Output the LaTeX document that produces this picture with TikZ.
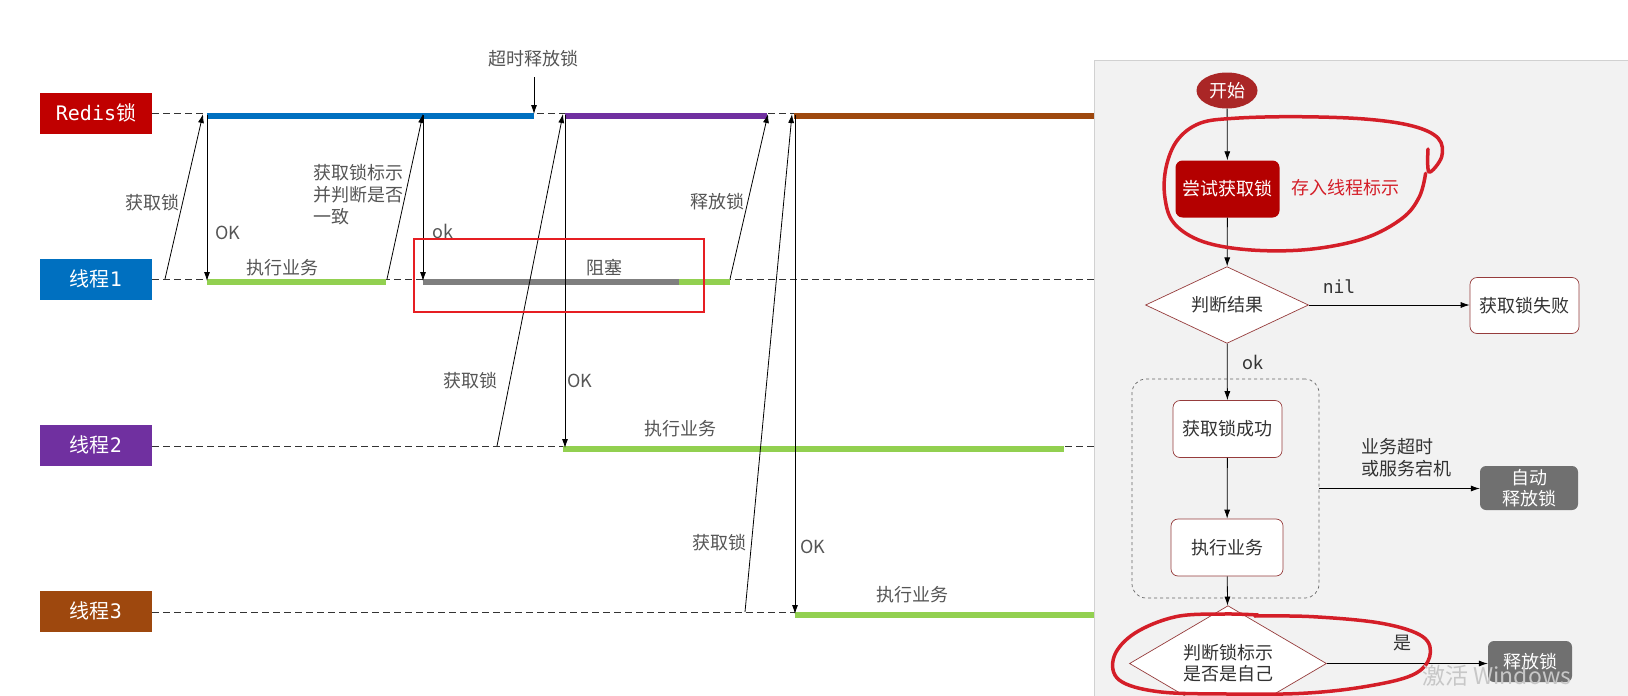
\documentclass[tikz,border=0pt]{standalone}
\usepackage{fontspec}
\setmainfont{Noto Sans CJK SC}
\newfontfamily\mymono{DejaVu Sans Mono}
\usetikzlibrary{arrows.meta,shapes.geometric}
\definecolor{redisred}{RGB}{192,0,0}
\definecolor{tblue}{RGB}{0,112,192}
\definecolor{tpurple}{RGB}{112,48,160}
\definecolor{tbrown}{RGB}{158,72,14}
\definecolor{bargreen}{RGB}{146,208,80}
\definecolor{bargray}{RGB}{127,127,127}
\definecolor{lblgray}{RGB}{85,85,85}
\definecolor{flowtext}{RGB}{51,51,51}
\definecolor{panelbg}{RGB}{242,242,242}
\definecolor{flowred}{RGB}{170,38,38}
\definecolor{tryred}{RGB}{180,0,0}
\definecolor{inkred}{RGB}{212,30,40}
\definecolor{boxgray}{RGB}{112,112,112}
\definecolor{edgered}{RGB}{150,60,60}
\definecolor{rectred}{RGB}{230,30,35}
\begin{document}
\begin{tikzpicture}[x=1pt,y=-1pt,
  lane/.style={fill=#1, text=white, minimum width=112pt, minimum height=41pt, inner sep=0pt, font=\fontsize{20}{24}\selectfont},
  tline/.style={draw=black!80, line width=0.9pt, dash pattern=on 7pt off 4pt},
  bar/.style={line width=6pt, draw=#1},
  arr/.style={draw=black, line width=0.8pt, -{Latex[length=9pt,width=6pt]}},
  lbl/.style={text=lblgray, font=\fontsize{18}{22}\selectfont, inner sep=0pt},
  flbl/.style={text=flowtext, font=\fontsize{18}{22}\selectfont, inner sep=0pt},
  fbox/.style={draw=edgered, line width=0.7pt, fill=white, rounded corners=7pt, text=flowtext, font=\fontsize{18}{22}\selectfont, inner sep=0pt},
  gbox/.style={fill=boxgray, rounded corners=6pt, text=white, font=\fontsize{18}{21}\selectfont, inner sep=0pt, align=center},
  dia/.style={diamond, draw=edgered, line width=0.7pt, fill=white, text=flowtext, font=\fontsize{18}{21}\selectfont, inner sep=-3pt, align=center},
  loop/.style={draw=inkred, line width=3.5pt, line cap=round, line join=round}
]
\useasboundingbox (0,0) rectangle (1628,696);

% ---------- lanes ----------
\node[lane=redisred] (redis) at (96,113) {{\mymono Redis}锁};
\node[lane=tblue] (t1) at (96,279) {线程{\mymono 1}};
\node[lane=tpurple] (t2) at (96,445) {线程{\mymono 2}};
\node[lane=tbrown] (t3) at (96,611) {线程{\mymono 3}};

\coordinate (rend) at (1100,113);
\coordinate (t1end) at (1100,279);
\coordinate (t2end) at (1100,446);
\coordinate (t3end) at (1100,612);
\draw[tline] (redis.east) -- (rend);
\draw[tline] (t1.east) -- (t1end);
\draw[tline] (t2.east |- t2end) -- (t2end);
\draw[tline] (t3.east |- t3end) -- (t3end);

% ---------- bars ----------
\draw[bar=tblue] (207,116.3) -- (534,116.3);
\draw[bar=tpurple] (565,116.3) -- (767,116.3);
\draw[bar=tbrown] (794,116.3) -- (1100,116.3);
\draw[bar=bargreen] (207,282.3) -- (386,282.3);
\draw[bar=bargray] (423,282.3) -- (679,282.3);
\draw[bar=bargreen] (679,282.3) -- (730,282.3);
\draw[bar=bargreen] (563,449) -- (1064,449);
\draw[bar=bargreen] (795,615) -- (1100,615);

% ---------- arrow end points ----------
\coordinate (a1s) at (165,279);  \coordinate (a1e) at (203,114);
\coordinate (k1s) at (207,115);  \coordinate (k1e) at (207,281);
\coordinate (a2s) at (387,279);  \coordinate (a2e) at (423,114);
\coordinate (k2s) at (423,115);  \coordinate (k2e) at (423,281);
\coordinate (a3s) at (730,279);  \coordinate (a3e) at (768,114);
\coordinate (a4s) at (497,446);  \coordinate (a4e) at (563,114);
\coordinate (k4s) at (565,115);  \coordinate (k4e) at (565,448);
\coordinate (a5s) at (745,612);  \coordinate (a5e) at (792,114);
\coordinate (k5s) at (795,115);  \coordinate (k5e) at (795,614);
\coordinate (tos) at (534,77);   \coordinate (toe) at (534,114);

\draw[arr] (a1s) -- (a1e);
\draw[arr] (k1s) -- (k1e);
\draw[arr] (a2s) -- (a2e);
\draw[arr] (k2s) -- (k2e);
\draw[arr] (a3s) -- (a3e);
\draw[arr] (a4s) -- (a4e);
\draw[arr] (k4s) -- (k4e);
\draw[arr] (a5s) -- (a5e);
\draw[arr] (k5s) -- (k5e);
\draw[arr] (tos) -- (toe);

% ---------- labels (left) ----------
\node[lbl] (lto) at (533,59) {超时释放锁};
\node[lbl] (l1) at (152,203) {获取锁};
\node[lbl, anchor=west] (lok1) at (215,233) {OK};
\node[lbl] (lx1) at (282,268) {执行业务};
\node[lbl, anchor=west, align=left] (lid) at (313,195) {获取锁标示\\并判断是否\\一致};
\node[lbl, anchor=west] (lok2) at (432,231) {ok};
\node[lbl] (lblk) at (604,268) {阻塞};
\node[lbl] (lrel) at (717,202) {释放锁};
\node[lbl] (l4) at (470,381) {获取锁};
\node[lbl, anchor=west] (lok4) at (567,381) {OK};
\node[lbl] (lx4) at (680,429) {执行业务};
\node[lbl] (l5) at (719,543) {获取锁};
\node[lbl, anchor=west] (lok5) at (800,547) {OK};
\node[lbl] (lx5) at (912,595) {执行业务};

\draw[rectred, line width=2pt] (414,239) rectangle (704,312);

% ---------- right panel ----------
\fill[panelbg] (1094,60) rectangle (1640,700);
\draw[black!18, line width=0.8pt] (1094,700) -- (1094,60) -- (1640,60);

\node[ellipse, fill=flowred, text=white, minimum width=61pt, minimum height=36pt, inner sep=0pt, font=\fontsize{18}{22}\selectfont] (start) at (1227,90.5) {开始};
\node[fill=tryred, rounded corners=7pt, text=white, minimum width=104pt, minimum height=57pt, inner sep=0pt, font=\fontsize{18}{22}\selectfont] (try) at (1227.5,189) {尝试获取锁};
\node[text=inkred, font=\fontsize{18}{22}\selectfont, inner sep=0pt] (store) at (1345,188) {存入线程标示};
\node[dia, minimum width=163pt, minimum height=69pt] (judge) at (1227,305) {判断结果};
\node[fbox, minimum width=109pt, minimum height=56pt] (fail) at (1524.5,305.5) {获取锁失败};
\node[draw=black!60, dashed, rounded corners=14pt, minimum width=187pt, minimum height=219pt, line width=0.7pt] (grp) at (1225.5,488.5) {};
\node[fbox, minimum width=109pt, minimum height=57pt] (succ) at (1227.5,429) {获取锁成功};
\node[fbox, minimum width=112pt, minimum height=57pt] (exec) at (1227,547.5) {执行业务};
\node[gbox, minimum width=98pt, minimum height=44pt] (auto) at (1529,488) {自动\\释放锁};
\node[dia, minimum width=197pt, minimum height=70pt] (judge2) at (1228,663.5) {判断锁标示\\是否是自己};
\node[gbox, minimum width=84pt, minimum height=41pt] (rel) at (1530,661.5) {释放锁};

\draw[arr] (start) -- (try);
\draw[arr] (try) -- (judge);
\draw[arr] (judge.east) -- (judge.east -| fail.west);
\draw[arr] (judge) -- (succ);
\draw[arr] (succ) -- (exec);
\draw[arr] (grp.east) -- (grp.east -| auto.west);
\draw[arr] (exec) -- (judge2);
\draw[arr] (judge2.east) -- (judge2.east -| rel.west);

\node[flbl] (nil) at (1339,287) {\mymono nil};
\node[flbl] (okf) at (1252.5,362) {ok};
\node[flbl, align=left] (tmo) at (1406,458) {业务超时\\或服务宕机};
\node[flbl] (yes) at (1402,643) {是};

% ---------- hand-drawn marks ----------
\draw[loop] plot[smooth, tension=0.6] coordinates {(1428,149) (1429,172) (1441.7,156.7) (1438.2,138.3) (1412.5,126) (1364.5,119) (1295.9,116.7) (1234.1,118.3) (1199.8,123.3) (1177.5,140) (1166.2,166.7) (1164.8,196.7) (1174.1,223.3) (1203.2,241.7) (1251.3,250) (1309.6,249.3) (1364.5,238.3) (1402.2,218.3) (1419.4,196.7) (1425.6,173.3)};
\draw[loop] plot[smooth, tension=0.6] coordinates {(1258,615) (1223.8,614) (1175.8,616.7) (1134.6,633.3) (1114,656.7) (1119.2,680) (1158.6,691.7) (1227.2,694) (1302.7,693.3) (1364.5,686.7) (1412.5,675) (1429.7,656.7) (1422.8,636.7) (1381.6,623.3) (1313,616.7) (1254.7,616)};

\node[text=black!22, font=\fontsize{23}{27}\selectfont, inner sep=0pt, anchor=west] (wm) at (1422,676) {激活 Windows};
\end{tikzpicture}
\end{document}
